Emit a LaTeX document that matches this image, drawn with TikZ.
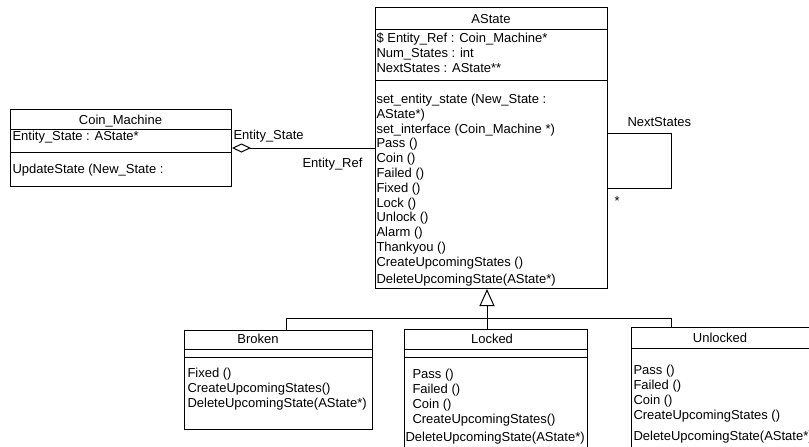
\documentclass[tikz,border=0pt]{standalone}
\usepackage{fontspec}
\setmainfont{Liberation Sans}
\usetikzlibrary{arrows.meta}
\begin{document}
\begin{tikzpicture}[x=0.75pt, y=-0.75pt, line width=0.75pt,
  font=\fontsize{9.75pt}{11pt}\selectfont,
  box/.style={draw, inner sep=0pt, anchor=north west},
  txt/.style={anchor=base west, inner sep=0pt},
  ttl/.style={anchor=base, inner sep=0pt},
  aggr/.style={{Diamond[open, length=14.25pt, width=6.75pt]}-},
  inherit/.style={-{Triangle[open, length=12.75pt, width=11.25pt]}}]
\useasboundingbox (0,0) rectangle (809,446);

% ---------- Coin_Machine ----------
\node[box, minimum width=165.75pt, minimum height=57.75pt] (coin) at (10,109) {};
\draw (10,129) -- (231,129);
\draw (10,152) -- (231,152);
\node[ttl] (coin-t) at (120.5,124.5) {Coin\_Machine};
\node[txt] (coin-a) at (12,140.5) {Entity\_State : AState*};
\node[txt] (coin-m) at (12,173.5) {UpdateState (New\_State :};

% ---------- AState ----------
\node[box, minimum width=174pt, minimum height=210.75pt] (astate) at (375,7) {};
\draw (375,29) -- (607,29);
\draw (375,80) -- (607,80);
\node[ttl] (as-t) at (491,23.5) {AState};
\foreach \t [count=\i from 0] in {{\$ Entity\_Ref : Coin\_Machine*},
    {Num\_States : int}, {NextStates : AState**}}
  \node[txt] (as-a\i) at (376,{42.5+15*\i}) {\t};
\foreach \t [count=\i from 0] in {{set\_entity\_state (New\_State :}, {AState*)},
    {set\_interface (Coin\_Machine *)}, {Pass ()}, {Coin ()}, {Failed ()},
    {Fixed ()}, {Lock ()}, {Unlock ()}, {Alarm ()}, {Thankyou ()},
    {CreateUpcomingStates ()}}
  \node[txt] (as-m\i) at (376,{103.5+14.8*\i}) {\t};
\node[txt] (as-del) at (376,283.5) {DeleteUpcomingState(AState*)};

% ---------- aggregation Coin_Machine <> AState ----------
\draw[aggr] (coin.east) -- (coin.east -| astate.west);
\node[txt] (lbl-state) at (233,139.5) {Entity\_State};
\node[txt] (lbl-ref) at (302,167.5) {Entity\_Ref};

% ---------- self association NextStates ----------
\coordinate (loopTop) at (671,133);
\coordinate (loopBot) at (671,188);
\draw (loopTop -| astate.east) -- (loopTop) -- (loopBot) -- (loopBot -| astate.east);
\node[txt] (lbl-next) at (627,126.5) {NextStates};
\node[txt] (lbl-many) at (614,205) {*};

% ---------- Broken ----------
\node[box, minimum width=141pt, minimum height=74.25pt] (broken) at (184,330) {};
\draw (184,349) -- (372,349);
\draw (184,357) -- (372,357);
\node[ttl] (br-t) at (258,343.5) {Broken};
\foreach \t [count=\i from 0] in {{Fixed ()}, {CreateUpcomingStates()},
    {DeleteUpcomingState(AState*)}}
  \node[txt] (br-m\i) at (187,{377.5+15*\i}) {\t};

% ---------- Locked ----------
\node[box, minimum width=137.25pt, minimum height=92.25pt] (locked) at (404,329) {};
\draw (404,349) -- (587,349);
\draw (404,357) -- (587,357);
\node[ttl] (lk-t) at (492,343.5) {Locked};
\foreach \t [count=\i from 0] in {{Pass ()}, {Failed ()}, {Coin ()},
    {CreateUpcomingStates()}}
  \node[txt] (lk-m\i) at (412,{378+15*\i}) {\t};
\node[txt] (lk-del) at (405,441.5) {DeleteUpcomingState(AState*)};

% ---------- Unlocked ----------
\node[box, minimum width=149.25pt, minimum height=93.75pt] (unlocked) at (631,327) {};
\draw (631,348) -- (830,348);
\node[ttl] (ul-t) at (720,342.5) {Unlocked};
\foreach \t [count=\i from 0] in {{Pass ()}, {Failed ()}, {Coin ()},
    {CreateUpcomingStates ()}}
  \node[txt] (ul-m\i) at (633,{374.5+15*\i}) {\t};
\node[txt] (ul-del) at (633,440.5) {DeleteUpcomingState(AState*)};

% ---------- generalisation tree ----------
\coordinate (hub) at (487,318);
\coordinate (brJoin) at (286,318);
\coordinate (ulJoin) at (671,318);
\draw[inherit] (hub) -- (hub |- astate.south);
\draw (brJoin |- broken.north) -- (brJoin) -- (ulJoin) -- (ulJoin |- unlocked.north);
\draw (hub) -- (hub |- locked.north);
\end{tikzpicture}
\end{document}
